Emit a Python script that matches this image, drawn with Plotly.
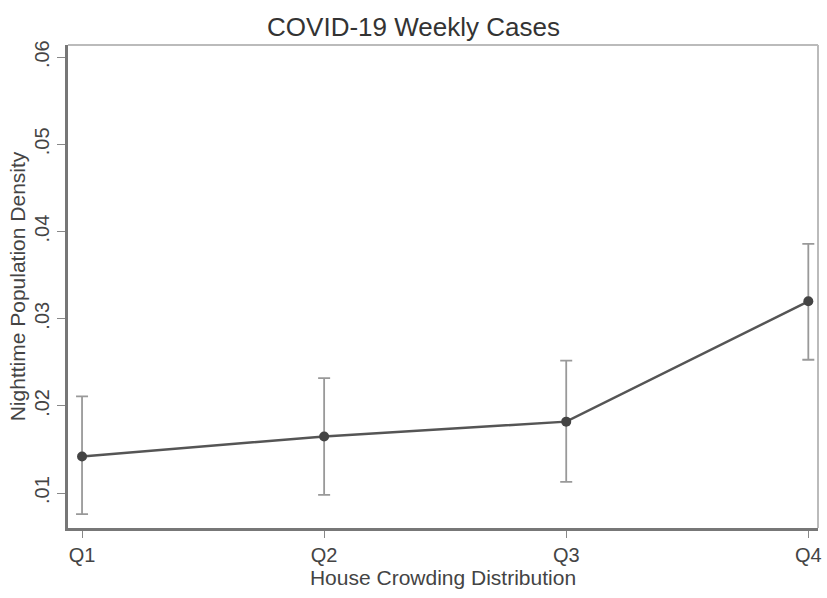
import plotly.graph_objects as go

categories = ["Q1", "Q2", "Q3", "Q4"]
x_pos = [1, 2, 3, 4]
means = [0.0142, 0.0165, 0.0182, 0.0320]
upper = [0.0211, 0.0232, 0.0252, 0.0386]
lower = [0.0076, 0.0098, 0.0113, 0.0253]
y_ticks = [0.01, 0.02, 0.03, 0.04, 0.05, 0.06]
y_tick_labels = [".01", ".02", ".03", ".04", ".05", ".06"]

err_plus = [u - m for u, m in zip(upper, means)]
err_minus = [m - l for m, l in zip(means, lower)]

fig = go.Figure()
fig.add_trace(go.Scatter(
    x=x_pos, y=means, mode="lines+markers",
    line=dict(color="#555555", width=2.5),
    marker=dict(color="#444444", size=10),
    error_y=dict(type="data", symmetric=False, array=err_plus, arrayminus=err_minus,
                 color="#999999", thickness=1.8, width=6),
    showlegend=False,
))

font_family = "Liberation Sans, Arial, sans-serif"
fig.update_layout(
    width=827, height=598,
    margin=dict(l=68, r=9, t=45, b=70),
    paper_bgcolor="white", plot_bgcolor="white",
    font=dict(family=font_family, color="#333333"),
    title=dict(text="COVID-19 Weekly Cases", x=0.5, xanchor="center", y=0.955, yanchor="middle",
               font=dict(size=26, color="#333333")),
)
fig.update_xaxes(
    range=[0.942, 4.04], tickvals=x_pos, ticktext=categories,
    showgrid=False, zeroline=False, automargin=False,
    showline=True, linecolor="#777777", linewidth=2.5, mirror=False,
    ticks="outside", ticklen=7, tickcolor="#888888",
    tickfont=dict(size=20, color="#444444"),
    title=dict(text="House Crowding Distribution", font=dict(size=21, color="#444444"), standoff=2),
)
fig.update_yaxes(
    range=[0.0060, 0.0614], tickvals=y_ticks, ticktext=y_tick_labels, tickangle=-90,
    showgrid=False, zeroline=False, automargin=False,
    showline=True, linecolor="#777777", linewidth=2.5, mirror=False,
    ticks="outside", ticklen=8, tickcolor="#888888", ticklabelstandoff=0,
    tickfont=dict(size=20, color="#444444"),
    title=dict(text="Nighttime Population Density", font=dict(size=21, color="#444444"), standoff=0),
)
# light frame on top and right
fig.add_shape(type="line", xref="paper", yref="paper", x0=0, x1=1, y0=1, y1=1,
              line=dict(color="#bbbbbb", width=2))
fig.add_shape(type="line", xref="paper", yref="paper", x0=1, x1=1, y0=0, y1=1,
              line=dict(color="#bbbbbb", width=2))

fig.write_html("out.html", config={"displayModeBar": False},
               post_script="document.body.style.margin='0';")
